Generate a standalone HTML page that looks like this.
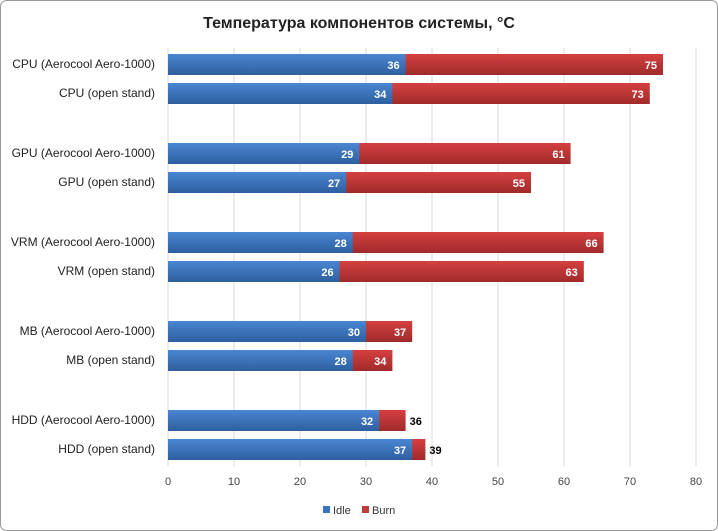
<!DOCTYPE html>
<html><head><meta charset="utf-8"><style>
body{margin:0;background:#fff;}
svg{display:block;font-family:"Liberation Sans",sans-serif;}
</style></head><body>
<svg id="c" width="718" height="531" xmlns="http://www.w3.org/2000/svg">
<defs>
<linearGradient id="gb" x1="0" y1="0" x2="0" y2="1"><stop offset="0" stop-color="#4a86d2"/><stop offset="1" stop-color="#2d5f9f"/></linearGradient>
<linearGradient id="gr" x1="0" y1="0" x2="0" y2="1"><stop offset="0" stop-color="#d5403f"/><stop offset="1" stop-color="#a02a2b"/></linearGradient>
</defs>
<rect x="0.5" y="0.5" width="717" height="530" rx="6" fill="#fff" stroke="#999"/>
<text x="359" y="28" text-anchor="middle" font-size="16" font-weight="bold" fill="#222">Температура компонентов системы, °C</text>
<g id="grid"></g><g id="bars"></g><g id="labels"></g>
<g>
<rect x="323" y="506" width="7" height="7" fill="#3a73bf"/>
<text x="333" y="514" font-size="11" fill="#333">Idle</text>
<rect x="362" y="506" width="7" height="7" fill="#c0393b"/>
<text x="372" y="514" font-size="11" fill="#333">Burn</text>
</g>
</svg>
<script>
const categories=["CPU (Aerocool Aero-1000)","CPU (open stand)","GPU (Aerocool Aero-1000)","GPU (open stand)","VRM (Aerocool Aero-1000)","VRM (open stand)","MB (Aerocool Aero-1000)","MB (open stand)","HDD (Aerocool Aero-1000)","HDD (open stand)"];
const idle=[36,34,29,27,28,26,30,28,32,37];
const burn=[75,73,61,55,66,63,37,34,36,39];
const ticks=[0,10,20,30,40,50,60,70,80];
const NS="http://www.w3.org/2000/svg";
const x0=168,x1=696,xmax=80;
const xs=v=>x0+(x1-x0)*v/xmax;
const yc=i=>64+Math.floor(i/2)*89+(i%2)*29;
function mk(t,a,p){const e=document.createElementNS(NS,t);for(const k in a)e.setAttribute(k,a[k]);p.appendChild(e);return e;}
const g=document.getElementById('grid'),b=document.getElementById('bars'),l=document.getElementById('labels');
ticks.forEach(t=>{
 const ln=mk('line',{x1:xs(t),x2:xs(t),y1:48,y2:466,stroke:'#d9d9d9'},g);
 
 
 const tx=mk('text',{x:xs(t),y:485,'text-anchor':'middle','font-size':11,fill:'#444'},g);tx.textContent=t;
 
 
});
categories.forEach((c,i)=>{
 const y=yc(i);
 const ct=mk('text',{x:155,y:y+4,'text-anchor':'end','font-size':12,fill:'#222'},l);ct.textContent=c;
 
 
 const rb=mk('rect',{x:x0,y:y-10,width:xs(burn[i])-x0,height:21,fill:'url(#gr)'},b);
 
 
 const ri=mk('rect',{x:x0,y:y-10,width:xs(idle[i])-x0,height:21,fill:'url(#gb)'},b);
 
 
 const it=mk('text',{x:xs(idle[i])-6,y:y+5,'text-anchor':'end','font-size':11,'font-weight':'bold',fill:'#fff'},l);it.textContent=idle[i];
 
 
 const inside=(xs(burn[i])-xs(idle[i]))>30;
 const bt=mk('text',{x:inside?xs(burn[i])-6:xs(burn[i])+4,y:y+5,'text-anchor':inside?'end':'start','font-size':11,'font-weight':'bold',fill:inside?'#fff':'#000'},l);bt.textContent=burn[i];
 
 
});
</script>
</body></html>
